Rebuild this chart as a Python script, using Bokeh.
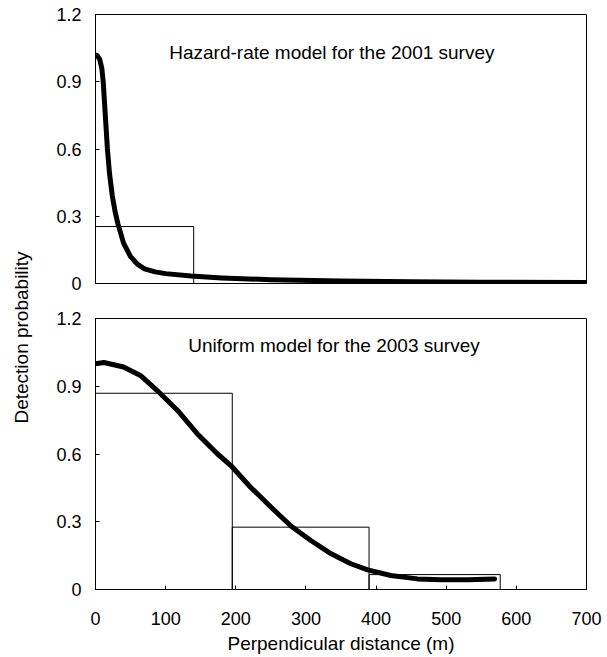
import math
from bokeh.plotting import figure
from bokeh.layouts import row, column
from bokeh.models import Range1d, Label, FixedTicker
from bokeh.embed import file_html
from bokeh.resources import INLINE
from bokeh.core.properties import value

# ---- data -------------------------------------------------------------
# 2001 survey: histogram of scaled detections and fitted hazard-rate curve
bins_2001_left = [0]
bins_2001_right = [140]
bins_2001_height = [0.254]

hazard_x = [0, 3, 6, 9, 11, 13, 15, 17, 20, 24, 28, 32, 40, 50, 60, 70, 85,
            100, 136, 180, 250, 350, 450, 550, 700]
hazard_y = [1.02, 1.015, 1.0, 0.96, 0.9, 0.8, 0.7, 0.6, 0.49, 0.39, 0.32, 0.266,
            0.18, 0.12, 0.085, 0.065, 0.052, 0.044, 0.033, 0.025, 0.017, 0.011,
            0.008, 0.006, 0.005]

# 2003 survey: histogram and fitted uniform-key curve
bins_2003_left = [0, 195, 390]
bins_2003_right = [195, 390, 577]
bins_2003_height = [0.869, 0.276, 0.066]

uniform_x = [0, 12, 40, 64, 88, 117, 145, 174, 193, 221, 250, 279, 307, 336,
             364, 388, 421, 459, 493, 531, 569]
uniform_y = [1.0, 1.005, 0.985, 0.948, 0.881, 0.793, 0.69, 0.60, 0.549, 0.453,
             0.365, 0.28, 0.217, 0.158, 0.114, 0.087, 0.062, 0.047, 0.043,
             0.043, 0.047]

x_ticks = [0, 100, 200, 300, 400, 500, 600, 700]
y_ticks = [0, 0.3, 0.6, 0.9, 1.2]
y_tick_labels = {0: "0", 0.3: "0.3", 0.6: "0.6", 0.9: "0.9", 1.2: "1.2"}

titles = ["Hazard-rate model for the 2001 survey",
          "Uniform model for the 2003 survey"]

FONT = "Liberation Sans"
TICK_FS = "18px"
TEXT_FS = "19px"


def panel(height, border_top, border_bottom, show_x_axis):
    p = figure(width=567, height=height, output_backend="svg",
               toolbar_location=None, x_range=Range1d(0, 700),
               y_range=Range1d(0, 1.2), min_border_left=55,
               min_border_right=21, min_border_top=border_top,
               min_border_bottom=border_bottom)
    p.grid.visible = False
    p.outline_line_color = "black"
    p.outline_line_width = 1
    p.background_fill_color = "white"
    p.border_fill_color = "white"

    p.xaxis.ticker = FixedTicker(ticks=x_ticks)
    p.yaxis.ticker = FixedTicker(ticks=y_ticks)
    p.yaxis.major_label_overrides = y_tick_labels
    for ax in (p.xaxis[0], p.yaxis[0]):
        ax.major_tick_in = 4
        ax.major_tick_out = 0
        ax.minor_tick_in = 0
        ax.minor_tick_out = 0
        ax.major_tick_line_color = "black"
        ax.axis_line_color = "black"
        ax.major_label_text_font = FONT
        ax.major_label_text_font_size = TICK_FS
        ax.major_label_text_color = "black"
    p.yaxis.major_label_standoff = 14
    if show_x_axis:
        p.xaxis.major_label_standoff = 22
        p.xaxis.axis_label = "Perpendicular distance (m)"
        p.xaxis.axis_label_text_font = FONT
        p.xaxis.axis_label_text_font_size = TEXT_FS
        p.xaxis.axis_label_text_font_style = "normal"
        p.xaxis.axis_label_text_color = "black"
        p.xaxis.axis_label_standoff = 5
    else:
        p.xaxis.visible = False
    return p


top = panel(301, 14, 18, False)
top.quad(left=bins_2001_left, right=bins_2001_right, bottom=0,
         top=bins_2001_height, fill_color=None, line_color="black",
         line_width=1)
top.line(hazard_x, hazard_y, line_color="black", line_width=5,
         line_cap="round", line_join="round")
top.add_layout(Label(x=337, y=1.03, text=titles[0], text_font=FONT,
                     text_font_size=TEXT_FS, text_align="center",
                     text_baseline="middle", text_color="black"))

bottom = panel(356, 17, 68, True)
bottom.quad(left=bins_2003_left, right=bins_2003_right, bottom=0,
            top=bins_2003_height, fill_color=None, line_color="black",
            line_width=1)
bottom.line(uniform_x, uniform_y, line_color="black", line_width=5,
            line_cap="round", line_join="round")
bottom.add_layout(Label(x=340, y=1.08, text=titles[1], text_font=FONT,
                        text_font_size=TEXT_FS, text_align="center",
                        text_baseline="middle", text_color="black"))

# shared y-axis title in its own narrow strip
ylab = figure(width=40, height=657, output_backend="svg",
              toolbar_location=None, x_range=Range1d(0, 40),
              y_range=Range1d(0, 657), min_border=0)
ylab.axis.visible = False
ylab.grid.visible = False
ylab.outline_line_color = None
ylab.text(x=[21], y=[320], text=["Detection probability"], angle=math.pi / 2,
          text_font=value(FONT), text_font_size=TEXT_FS, text_align="center",
          text_baseline="middle", text_color="black")

layout = row(ylab, column(top, bottom))

with open("out.html", "w") as f:
    f.write(file_html(layout, INLINE))
